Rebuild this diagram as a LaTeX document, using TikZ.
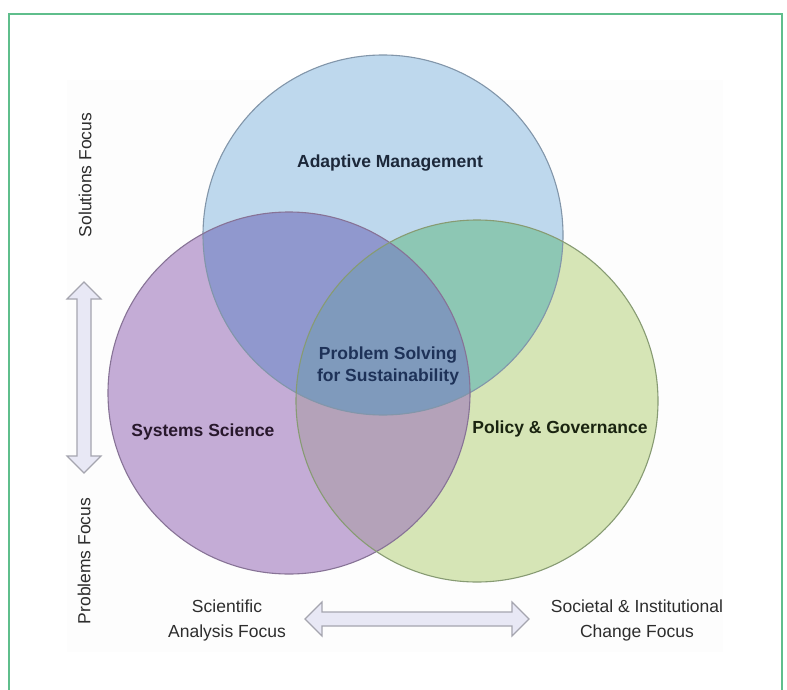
\documentclass[tikz,border=0pt]{standalone}
\usepackage{fontspec}
\setmainfont{Liberation Sans}
\begin{document}
\begin{tikzpicture}[x=1pt,y=-1pt,
  circ/.style={line width=1.1pt},
  lab/.style={font=\fontsize{17.5}{22}\selectfont\bfseries, align=center, inner sep=0pt},
  axis/.style={font=\fontsize{17.5}{25}\selectfont, text=axistext, align=center, inner sep=0pt},
  bigarrow/.style={draw=arrowline, fill=arrowfill, line width=1.1pt, line join=miter}
]
\definecolor{frame}{RGB}{95,190,140}
\definecolor{bgpanel}{RGB}{253,253,253}
\definecolor{cblue}{RGB}{190,216,237}
\definecolor{cpurple}{RGB}{196,172,214}
\definecolor{cgreen}{RGB}{214,229,182}
\definecolor{cbp}{RGB}{144,152,206}
\definecolor{cbg}{RGB}{141,199,180}
\definecolor{cpg}{RGB}{180,162,185}
\definecolor{ccenter}{RGB}{127,154,188}
\definecolor{oblue}{RGB}{130,150,170}
\definecolor{opurple}{RGB}{135,115,150}
\definecolor{ogreen}{RGB}{135,155,115}
\definecolor{axistext}{RGB}{45,45,45}
\definecolor{arrowfill}{RGB}{232,232,245}
\definecolor{arrowline}{RGB}{165,165,175}
\definecolor{tblue}{RGB}{28,40,58}
\definecolor{tnavy}{RGB}{30,50,88}
\definecolor{tpurple}{RGB}{40,24,44}
\definecolor{tgreen}{RGB}{26,36,16}

\useasboundingbox (0,0) rectangle (787,690);
\fill[white] (0,0) rectangle (787,690);
% frame (open at bottom, runs off the page)
\draw[frame, line width=2pt] (9,700) -- (9,14) -- (782,14) -- (782,700);
% faint panel
\fill[bgpanel] (67,80) rectangle (723,652);

% circle geometry
\coordinate (cb) at (383,235);
\coordinate (cp) at (289,393);
\coordinate (cg) at (477,401);
\def\rb{180}\def\rp{181}\def\rg{181}

% base fills
\fill[cblue] (cb) circle (\rb);
\fill[cpurple] (cp) circle (\rp);
\fill[cgreen] (cg) circle (\rg);
% pairwise overlaps
\begin{scope}\clip (cb) circle (\rb); \fill[cbp] (cp) circle (\rp); \end{scope}
\begin{scope}\clip (cb) circle (\rb); \fill[cbg] (cg) circle (\rg); \end{scope}
\begin{scope}\clip (cp) circle (\rp); \fill[cpg] (cg) circle (\rg); \end{scope}
% triple overlap
\begin{scope}\clip (cb) circle (\rb); \clip (cp) circle (\rp); \fill[ccenter] (cg) circle (\rg); \end{scope}
% outlines
\draw[circ, draw=oblue] (cb) circle (\rb);
\draw[circ, draw=opurple] (cp) circle (\rp);
\draw[circ, draw=ogreen] (cg) circle (\rg);

% labels
\node[lab, text=tblue] (am) at (390,163) {Adaptive Management};
\node[lab, text=tnavy] (ps) at (388,366) {Problem Solving\\for Sustainability};
\node[lab, text=tpurple] (ss) at (203,432) {Systems Science};
\node[lab, text=tgreen] (pg) at (560,429) {Policy \& Governance};

% axis labels
\node[axis, rotate=90] (sf) at (85,175) {Solutions Focus};
\node[axis, rotate=90] (pf) at (84,561) {Problems Focus};
\node[axis] (sa) at (227,620) {Scientific\\Analysis Focus};
\node[axis] (sc) at (637,620) {Societal \& Institutional\\Change Focus};

% vertical double arrow
\draw[bigarrow] (84,282) -- (101,299) -- (91,299) -- (91,456) -- (101,456) -- (84,473)
  -- (67,456) -- (77,456) -- (77,299) -- (67,299) -- cycle;
% horizontal double arrow
\draw[bigarrow] (305,619) -- (322,602) -- (322,612) -- (512,612) -- (512,602) -- (529,619)
  -- (512,636) -- (512,626) -- (322,626) -- (322,636) -- cycle;
\end{tikzpicture}
\end{document}
